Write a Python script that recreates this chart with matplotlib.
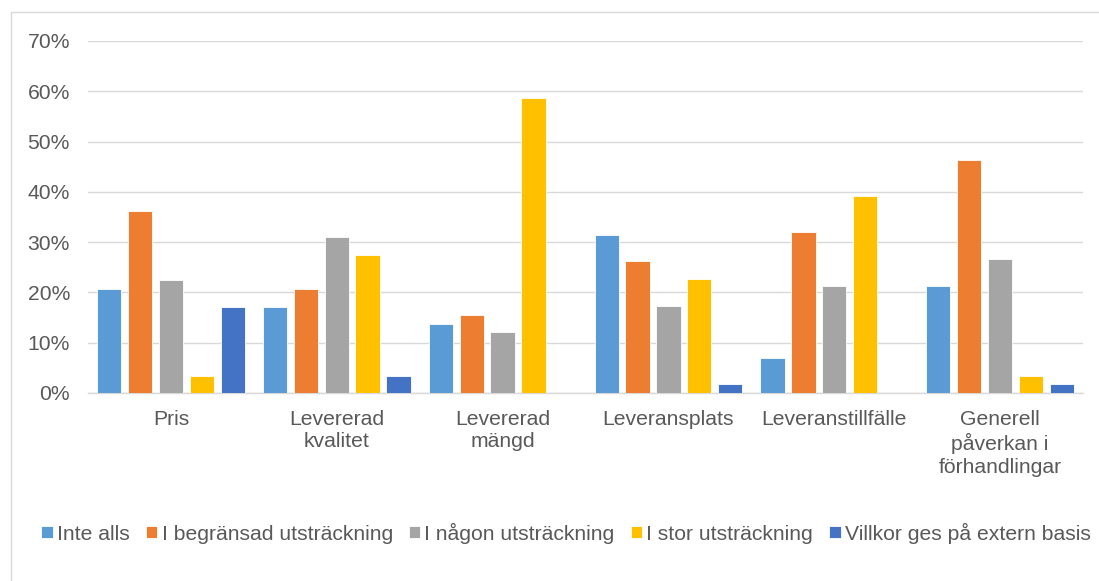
import matplotlib
matplotlib.use("Agg")
import matplotlib.pyplot as plt
import numpy as np
from matplotlib.patches import Rectangle

plt.rcParams['font.family'] = ['Liberation Sans', 'DejaVu Sans']

categories = ["Pris", "Levererad\nkvalitet", "Levererad\nmängd", "Leveransplats",
              "Leveranstillfälle", "Generell\npåverkan i\nförhandlingar"]
series_names = ["Inte alls", "I begränsad utsträckning", "I någon utsträckning",
                "I stor utsträckning", "Villkor ges på extern basis"]
inte_alls = [20.6, 17.2, 13.8, 31.5, 7.0, 21.3]
begransad = [36.2, 20.6, 15.5, 26.2, 32.1, 46.3]
nagon = [22.4, 31.0, 12.1, 17.4, 21.3, 26.6]
stor = [3.4, 27.5, 58.6, 22.7, 39.2, 3.4]
villkor = [17.2, 3.4, 0.0, 1.7, 0.0, 1.7]
yticks = [0, 10, 20, 30, 40, 50, 60, 70]
colors = ["#5B9BD5", "#ED7D31", "#A5A5A5", "#FFC000", "#4472C4"]

W, H = 1099, 581
FS = 15.2
fig = plt.figure(figsize=(W / 100, H / 100), dpi=100)
ax = fig.add_axes([88 / W, 1 - 393 / H, (1083 - 88) / W, (393 - 41) / H])

# chart border (top and left visible)
fig.patches.append(Rectangle((10.5 / W, -0.1), 1.2, 1 - 11.5 / H + 0.1,
                             transform=fig.transFigure, fill=False,
                             edgecolor="#D9D9D9", linewidth=1.0))

data = [inte_alls, begransad, nagon, stor, villkor]
x = np.arange(len(categories))
step = 0.186
width = 0.146
for i, (vals, col, name) in enumerate(zip(data, colors, series_names)):
    ax.bar(x + (i - 2) * step, vals, width=width, color=col, label=name,
           edgecolor="white", linewidth=0.6, zorder=3)

ax.set_xlim(-0.5, len(categories) - 0.5)
ax.set_ylim(0, 70)
ax.set_yticks(yticks)
ax.set_yticklabels([f"{v}%" for v in yticks])
ax.set_xticks(x)
ax.set_xticklabels(categories, linespacing=1.25)
ax.yaxis.grid(True, color="#D9D9D9", linewidth=1.0, zorder=0)
ax.set_axisbelow(True)
for s in ["top", "right", "left"]:
    ax.spines[s].set_visible(False)
ax.spines["bottom"].set_color("#D9D9D9")
ax.spines["bottom"].set_linewidth(1.0)
ax.tick_params(axis="both", length=0, labelsize=FS, colors="#595959")
ax.tick_params(axis="y", pad=13)
ax.tick_params(axis="x", pad=12)

leg = fig.legend(loc="center", bbox_to_anchor=(566 / W, 1 - 533 / H), ncol=5,
                 frameon=False, fontsize=FS, handlelength=0.55, handleheight=0.55,
                 handletextpad=0.2, columnspacing=0.75, borderaxespad=0)
for t in leg.get_texts():
    t.set_color("#595959")

fig.savefig("out.png", dpi=100)
